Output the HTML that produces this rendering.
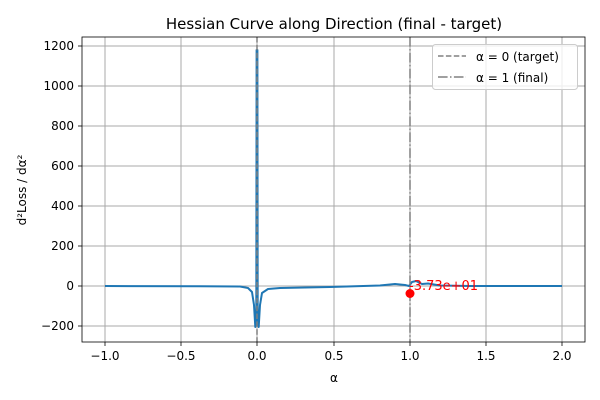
<!DOCTYPE html>
<html><head><meta charset="utf-8"><style>body{margin:0;background:#fff}svg{display:block}</style></head><body>
<svg width="600" height="400" xmlns="http://www.w3.org/2000/svg" font-family="DejaVu Sans, Liberation Sans, sans-serif">
<rect width="600" height="400" fill="#fff"/>
<g stroke="#a8a8a8" stroke-width="1">
<line x1="105" y1="37" x2="105" y2="342"/><line x1="181" y1="37" x2="181" y2="342"/><line x1="257" y1="37" x2="257" y2="342"/><line x1="334" y1="37" x2="334" y2="342"/><line x1="410" y1="37" x2="410" y2="342"/><line x1="486" y1="37" x2="486" y2="342"/><line x1="562" y1="37" x2="562" y2="342"/>
<line x1="82" y1="46" x2="585" y2="46"/><line x1="82" y1="86" x2="585" y2="86"/><line x1="82" y1="126" x2="585" y2="126"/><line x1="82" y1="166" x2="585" y2="166"/><line x1="82" y1="206" x2="585" y2="206"/><line x1="82" y1="246" x2="585" y2="246"/><line x1="82" y1="286" x2="585" y2="286"/><line x1="82" y1="326" x2="585" y2="326"/>
</g>
<path d="M105,286 L200,286.3 L240,286.5 L248,288 L252,292 L254,305 L255.3,327 L256.3,320 L256.6,50 L257.4,50 L257.7,320 L258.7,327 L260,305 L262,293 L268,289 L280,288 L330,287 L380,285.5 L395,284 L405,285 L409,286 L412,282 L416,281 L422,284 L428,283.5 L440,285.5 L470,286 L562,286" fill="none" stroke="#1f77b4" stroke-width="2" stroke-linejoin="round"/>
<line x1="257" y1="37" x2="257" y2="342" stroke="#808080" stroke-width="1.5" stroke-dasharray="5.5,2.4"/>
<line x1="410" y1="37" x2="410" y2="342" stroke="#808080" stroke-width="1.5" stroke-dasharray="9.6,2.4,1.5,2.4"/>
<circle cx="410" cy="293.5" r="4.5" fill="#ff0000"/>
<text x="409" y="290" font-size="13" fill="#ff0000">-3.73e+01</text>
<rect x="82" y="37" width="503" height="305" fill="none" stroke="#000" stroke-width="0.8"/>
<g stroke="#000" stroke-width="0.8">
<line x1="105" y1="342" x2="105" y2="346"/><line x1="181" y1="342" x2="181" y2="346"/><line x1="257" y1="342" x2="257" y2="346"/><line x1="334" y1="342" x2="334" y2="346"/><line x1="410" y1="342" x2="410" y2="346"/><line x1="486" y1="342" x2="486" y2="346"/><line x1="562" y1="342" x2="562" y2="346"/>
<line x1="78" y1="46" x2="82" y2="46"/><line x1="78" y1="86" x2="82" y2="86"/><line x1="78" y1="126" x2="82" y2="126"/><line x1="78" y1="166" x2="82" y2="166"/><line x1="78" y1="206" x2="82" y2="206"/><line x1="78" y1="246" x2="82" y2="246"/><line x1="78" y1="286" x2="82" y2="286"/><line x1="78" y1="326" x2="82" y2="326"/>
</g>
<g font-size="12" fill="#000" text-anchor="middle">
<text x="105" y="360">−1.0</text><text x="181" y="360">−0.5</text><text x="257" y="360">0.0</text><text x="334" y="360">0.5</text><text x="410" y="360">1.0</text><text x="486" y="360">1.5</text><text x="562" y="360">2.0</text>
<text x="334" y="382">α</text>
</g>
<g font-size="12" fill="#000" text-anchor="end">
<text x="74" y="50">1200</text><text x="74" y="90">1000</text><text x="74" y="130">800</text><text x="74" y="170">600</text><text x="74" y="210">400</text><text x="74" y="250">200</text><text x="74" y="290">0</text><text x="74" y="330">−200</text>
</g>
<text transform="translate(26,190) rotate(-90)" font-size="12" text-anchor="middle">d²Loss / dα²</text>
<text x="334" y="29" font-size="15" text-anchor="middle">Hessian Curve along Direction (final - target)</text>
<rect x="432.5" y="44.5" width="145" height="45" rx="3" fill="#fff" fill-opacity="0.8" stroke="#ccc"/>
<line x1="438" y1="56" x2="466" y2="56" stroke="#808080" stroke-width="1.5" stroke-dasharray="5.5,2.4"/>
<line x1="438" y1="77" x2="466" y2="77" stroke="#808080" stroke-width="1.5" stroke-dasharray="9.6,2.4,1.5,2.4"/>
<text x="476" y="61" font-size="12">α = 0 (target)</text>
<text x="476" y="82" font-size="12">α = 1 (final)</text>
</svg>
</body></html>
